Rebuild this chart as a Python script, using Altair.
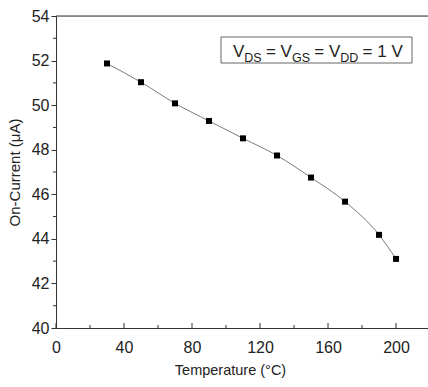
import altair as alt
import pandas as pd

temperature = [30, 50, 70, 90, 110, 130, 150, 170, 190, 200]
on_current = [51.87, 51.03, 50.08, 49.29, 48.51, 47.74, 46.75, 45.67, 44.18, 43.10]

x_major = [0, 40, 80, 120, 160, 200]
x_minor = [20, 60, 100, 140, 180]
y_major = [40, 42, 44, 46, 48, 50, 52, 54]
y_minor = [41, 43, 45, 47, 49, 51, 53]

W, H = 372, 312
XMAX = 218.8
FONT = "Liberation Sans"
AX = "#333333"

df = pd.DataFrame({"T": temperature, "I": on_current})
one = pd.DataFrame({"k": [0]})
xs = alt.Scale(domain=[0, XMAX], nice=False, zero=False)
ys = alt.Scale(domain=[40, 54], nice=False, zero=False)

base = alt.Chart(df)

line = base.mark_line(color="#7a7a7a", strokeWidth=1, clip=True, interpolate="monotone").encode(
    x=alt.X("T:Q", scale=xs,
            axis=alt.Axis(values=x_major, title="Temperature (°C)", ticks=False,
                          grid=False, labelPadding=11, labelFontSize=16,
                          titleFontSize=14.5, titleFontWeight="normal",
                          titlePadding=8, titleX=174, domainColor=AX,
                          labelColor="#222", titleColor="#222", labelFont=FONT,
                          titleFont=FONT, labelFlush=False)),
    y=alt.Y("I:Q", scale=ys,
            axis=alt.Axis(values=y_major, title="On-Current (μA)", tickSize=5,
                          grid=False, labelPadding=2, labelFontSize=16,
                          titleFontSize=15, titleFontWeight="normal",
                          titlePadding=9, domainColor=AX, tickColor=AX,
                          labelColor="#222", titleColor="#222", labelFont=FONT,
                          titleFont=FONT, labelFlush=False)),
)

pts = base.mark_point(shape="square", filled=True, color="black", size=36, opacity=1).encode(
    x=alt.X("T:Q", scale=xs), y=alt.Y("I:Q", scale=ys)
)

xmaj_df = pd.DataFrame({"v": x_major})
xmin_df = pd.DataFrame({"v": x_minor})
ymin_df = pd.DataFrame({"v": y_minor})

xmaj = alt.Chart(xmaj_df).mark_rule(color=AX, strokeWidth=1).encode(
    x=alt.X("v:Q", scale=xs), y=alt.value(H), y2=alt.value(H - 5))
xmin = alt.Chart(xmin_df).mark_rule(color=AX, strokeWidth=1).encode(
    x=alt.X("v:Q", scale=xs), y=alt.value(H), y2=alt.value(H - 3))
ymin = alt.Chart(ymin_df).mark_rule(color=AX, strokeWidth=1).encode(
    y=alt.Y("v:Q", scale=ys), x=alt.value(0), x2=alt.value(-3))

top = alt.Chart(one).mark_rule(color=AX, strokeWidth=1).encode(
    x=alt.value(0), x2=alt.value(W), y=alt.value(0))

box = alt.Chart(one).mark_rect(fill="white", stroke="#666", strokeWidth=1).encode(
    x=alt.value(165), x2=alt.value(356), y=alt.value(21), y2=alt.value(47))

# legend text "V_DS = V_GS = V_DD = 1 V" laid out piece by piece (Arial metrics)
MAIN, SUB = 17, 12.5
WID = {"V": 0.667, "D": 0.722, "S": 0.667, "G": 0.778, "=": 0.584, " ": 0.278, "1": 0.556}
# (text, is_subscript, gap before in em of main font)
pieces = [("V", False, 0), ("DS", True, 0), ("= V", False, 0.25), ("GS", True, 0),
          ("= V", False, 0.25), ("DD", True, 0), ("= 1 V", False, 0.25)]
texts = []
xp = 177.0
for s, is_sub, gap in pieces:
    fs = SUB if is_sub else MAIN
    xp += gap * MAIN
    texts.append(alt.Chart(one).mark_text(
        text=s, align="left", baseline="alphabetic", fontSize=fs, font=FONT, color="#222"
    ).encode(x=alt.value(xp), y=alt.value(41 if not is_sub else 46)))
    xp += sum(WID[c] for c in s) * fs

chart = alt.layer(line, pts, xmaj, xmin, ymin, top, box, *texts).properties(
    width=W, height=H,
    autosize=alt.AutoSizeParams(type="none"),
    padding={"left": 56, "top": 16, "right": 0, "bottom": 59},
).configure_view(stroke=None).configure(background="white")

chart.save("out.html", embed_options={"renderer": "svg", "actions": False})
